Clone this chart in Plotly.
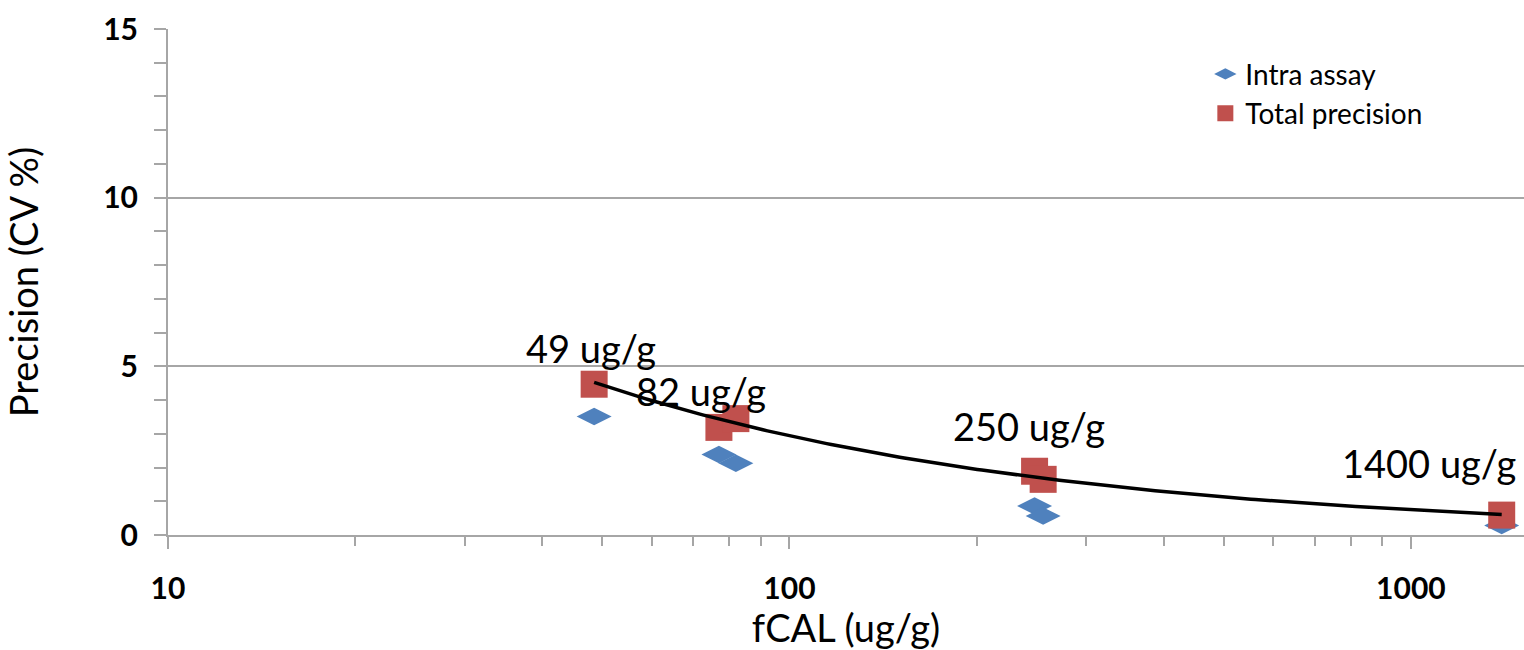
import numpy as np
import plotly.graph_objects as go

# Data
intra_x = [48.5, 77, 82, 248, 256, 1400]
intra_y = [3.51, 2.39, 2.13, 0.86, 0.56, 0.28]
total_x = [48.5, 77, 82, 248, 256, 1400]
total_y = [4.47, 3.19, 3.45, 1.89, 1.65, 0.59]

label_text = ["49 ug/g", "82 ug/g", "250 ug/g", "1400 ug/g"]
label_x = [47.9, 72, 243, 1070]
label_y = [5.55, 4.28, 3.22, 2.13]

x_tickvals = [10, 100, 1000]
y_tickvals = [0, 5, 10, 15]

# Power trendline fit (like spreadsheet "power" trendline) on total precision
b, ln_a = np.polyfit(np.log(total_x), np.log(total_y), 1)
tx = np.logspace(np.log10(min(total_x)), np.log10(max(total_x)), 200)
ty = np.exp(ln_a) * tx ** b

BLUE = "#4F81BD"
RED = "#C0504D"
GRID = "#A6A6A6"
TXT_FONT = "Lato, 'Open Sans', sans-serif"

fig = go.Figure()
fig.add_trace(go.Scatter(
    x=intra_x, y=intra_y, mode="markers", name="Intra assay",
    marker=dict(symbol="diamond-wide", size=25, color=BLUE, line=dict(width=0)),
))
fig.add_trace(go.Scatter(
    x=total_x, y=total_y, mode="markers", name="Total precision",
    marker=dict(symbol="square", size=27, color=RED, line=dict(width=0)),
))
fig.add_trace(go.Scatter(
    x=tx, y=ty, mode="lines", showlegend=False,
    line=dict(color="black", width=3.5), hoverinfo="skip",
))

for t, lx, ly in zip(label_text, label_x, label_y):
    fig.add_annotation(
        x=np.log10(lx), y=ly, xref="x", yref="y", text=t, showarrow=False,
        font=dict(family=TXT_FONT, size=38, color="black"),
    )

fig.update_layout(
    width=1524, height=650,
    margin=dict(l=168, r=0, t=29, b=113),
    paper_bgcolor="white", plot_bgcolor="white",
    showlegend=True,
    legend=dict(
        x=0.765, y=0.96, xanchor="left", yanchor="top",
        font=dict(family=TXT_FONT, size=28, color="black"),
        bgcolor="rgba(0,0,0,0)", itemwidth=30, tracegroupgap=0,
    ),
    xaxis=dict(
        type="log", range=[1, 3.182],
        tickvals=x_tickvals, ticktext=[str(v) for v in x_tickvals],
        tickfont=dict(family=TXT_FONT, size=30, color="black", weight="bold"),
        ticks="outside", ticklen=12, tickcolor=GRID, tickwidth=2,
        ticklabelstandoff=14,
        showline=True, linecolor=GRID, linewidth=2,
        showgrid=False, zeroline=False,
        minor=dict(ticks="outside", ticklen=9, tickcolor=GRID, tickwidth=2,
                   dtick="D1", showgrid=False),
        title=dict(text="fCAL (ug/g)", font=dict(family=TXT_FONT, size=38, color="black"),
                   standoff=18),
    ),
    yaxis=dict(
        range=[0, 15],
        tickvals=y_tickvals,
        tickfont=dict(family=TXT_FONT, size=30, color="black", weight="bold"),
        ticks="outside", ticklen=12, tickcolor=GRID, tickwidth=2,
        ticklabelstandoff=10,
        showline=True, linecolor=GRID, linewidth=2,
        showgrid=True, gridcolor=GRID, gridwidth=2, zeroline=False,
        minor=dict(ticks="outside", ticklen=12, tickcolor=GRID, tickwidth=2,
                   dtick=1, showgrid=False),
        title=dict(text="Precision (CV %)", font=dict(family=TXT_FONT, size=38, color="black"),
                   standoff=56),
    ),
)

fig.write_html("out.html")
